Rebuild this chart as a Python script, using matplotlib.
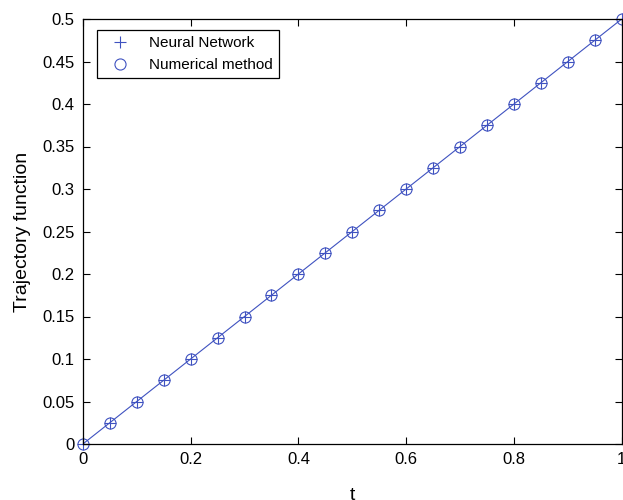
import matplotlib
matplotlib.use("Agg")
import matplotlib.pyplot as plt

# sample points
t = [0.0, 0.05, 0.1, 0.15, 0.2, 0.25, 0.3, 0.35, 0.4, 0.45, 0.5,
     0.55, 0.6, 0.65, 0.7, 0.75, 0.8, 0.85, 0.9, 0.95, 1.0]
neural_net = [0.0, 0.025, 0.05, 0.075, 0.1, 0.125, 0.15, 0.175, 0.2, 0.225, 0.25,
              0.275, 0.3, 0.325, 0.35, 0.375, 0.4, 0.425, 0.45, 0.475, 0.5]
numerical = [0.0, 0.025, 0.05, 0.075, 0.1, 0.125, 0.15, 0.175, 0.2, 0.225, 0.25,
             0.275, 0.3, 0.325, 0.35, 0.375, 0.4, 0.425, 0.45, 0.475, 0.5]

xticks = [0, 0.2, 0.4, 0.6, 0.8, 1]
xticklabels = ["0", "0.2", "0.4", "0.6", "0.8", "1"]
yticks = [0, 0.05, 0.1, 0.15, 0.2, 0.25, 0.3, 0.35, 0.4, 0.45, 0.5]
yticklabels = ["0", "0.05", "0.1", "0.15", "0.2", "0.25", "0.3", "0.35", "0.4", "0.45", "0.5"]

blue = "#3f52c0"
plt.rcParams["font.family"] = ["Liberation Sans", "DejaVu Sans"]

fig = plt.figure(figsize=(6.23, 5), dpi=100)
ax = fig.add_axes([0.133, 0.112, 0.865, 0.85])

# connecting line (not in legend)
ax.plot(t, neural_net, color=blue, lw=0.8)
ax.plot(t, neural_net, color=blue, lw=0, marker="+", ms=8, mew=0.8,
        label="Neural Network", clip_on=False)
ax.plot(t, numerical, color=blue, lw=0, marker="o", ms=8, mew=0.8,
        mfc="none", label="Numerical method", clip_on=False)

ax.set_xlim(0, 1)
ax.set_ylim(0, 0.5)
ax.set_xticks(xticks)
ax.set_xticklabels(xticklabels)
ax.set_yticks(yticks)
ax.set_yticklabels(yticklabels)
ax.tick_params(direction="in", length=5, width=0.8, labelsize=12, top=True, right=True,
               pad=6)
for s in ax.spines.values():
    s.set_linewidth(0.9)

ax.set_xlabel("t", fontsize=14, labelpad=14)
ax.set_ylabel("Trajectory function", fontsize=14, labelpad=8)

leg = ax.legend(loc="upper left", fontsize=11, fancybox=False, edgecolor="black",
                framealpha=1, borderaxespad=0.6, handlelength=2.2,
                bbox_to_anchor=(0.01, 0.995))
leg.get_frame().set_linewidth(0.9)

fig.savefig("out.png", dpi=100)
